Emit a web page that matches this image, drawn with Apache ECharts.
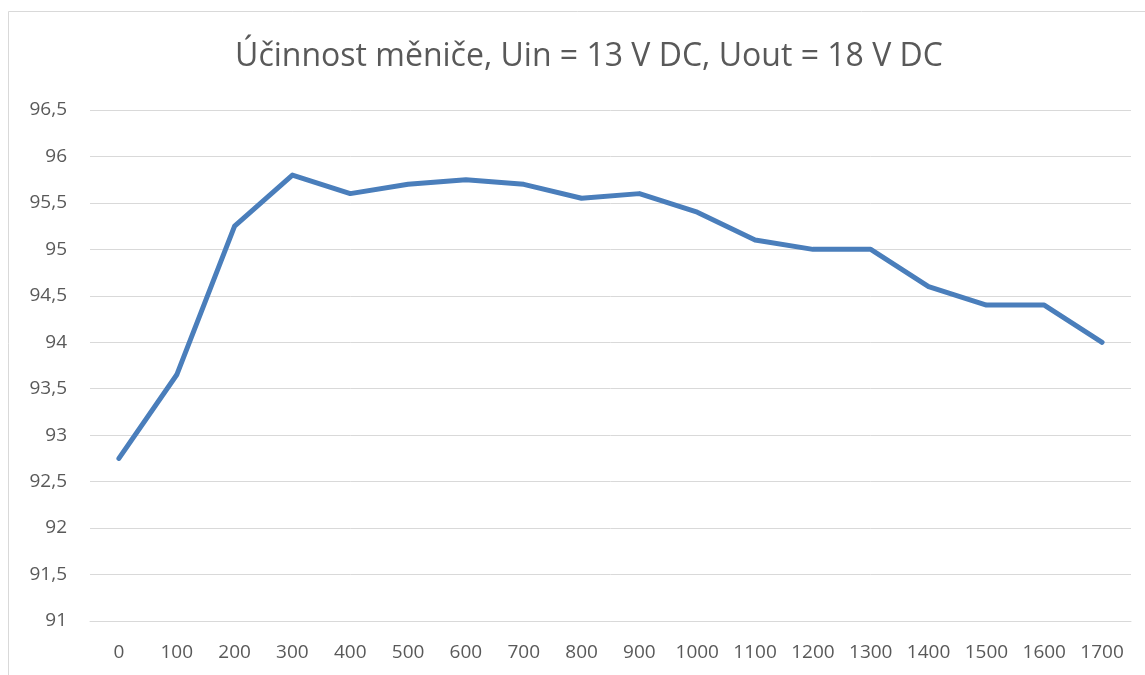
<!DOCTYPE html>
<html>
<head>
<meta charset="utf-8">
<script src="https://cdn.jsdelivr.net/npm/echarts@6/dist/echarts.min.js"></script>
<style>
  html, body { margin: 0; padding: 0; background: #fff; }
  #chart { width: 1145px; height: 675px; }
</style>
</head>
<body>
<div id="chart"></div>
<script>
var titleText = 'Účinnost měniče, Uin = 13 V DC, Uout = 18 V DC';
// proud zátěže (kategorie osy x)
var categories = ['0', '100', '200', '300', '400', '500', '600', '700', '800', '900',
  '1000', '1100', '1200', '1300', '1400', '1500', '1600', '1700'];
// účinnost v %
var efficiency = [92.75, 93.65, 95.25, 95.8, 95.6, 95.7, 95.75, 95.7, 95.55, 95.6,
  95.4, 95.1, 95.0, 95.0, 94.6, 94.4, 94.4, 94.0];
var yMin = 91, yMax = 96.5, yStep = 0.5;

var chart = echarts.init(document.getElementById('chart'));
var font = '"Open Sans", "Noto Sans", sans-serif';

var option = {
  animation: false,
  backgroundColor: '#fff',
  title: {
    text: titleText,
    left: 584,
    textAlign: 'center',
    top: 36,
    textStyle: { fontFamily: font, fontSize: 32, fontWeight: 'normal', color: '#595959' }
  },
  grid: { left: 90, right: 14, top: 110, bottom: 54 },
  graphic: [{
    type: 'rect',
    silent: true,
    shape: { x: 8.5, y: 11.5, width: 1200, height: 700 },
    style: { fill: 'none', stroke: '#d9d9d9', lineWidth: 1 }
  }],
  xAxis: {
    type: 'category',
    data: categories,
    boundaryGap: true,
    axisLine: { show: true, lineStyle: { color: '#d9d9d9', width: 1 } },
    axisTick: { show: false },
    axisLabel: { interval: 0, margin: 22, color: '#595959', fontFamily: font, fontSize: 19 }
  },
  yAxis: {
    type: 'value',
    min: yMin,
    max: yMax,
    interval: yStep,
    axisLine: { show: false },
    axisTick: { show: false },
    splitLine: { lineStyle: { color: '#d9d9d9', width: 1 } },
    axisLabel: {
      margin: 23,
      color: '#595959',
      fontFamily: font,
      fontSize: 19,
      formatter: function (v) { return String(v).replace('.', ','); }
    }
  },
  series: [{
    type: 'line',
    data: efficiency,
    symbol: 'none',
    lineStyle: { color: '#4a7ebb', width: 5, join: 'round', cap: 'round' }
  }]
};
chart.setOption(option);
</script>
</body>
</html>
